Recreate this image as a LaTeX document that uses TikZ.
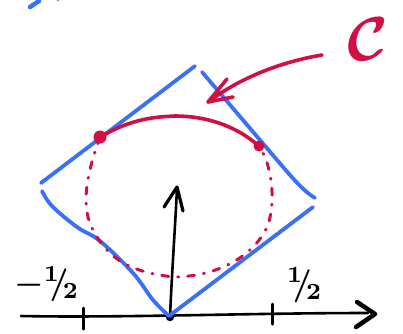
\documentclass[tikz,border=0pt]{standalone}
\usepackage{amsmath,amssymb,bm,graphicx}
\begin{document}
\begin{tikzpicture}[x=1pt,y=-1pt,
  bluel/.style={draw=penblue,line width=3.8pt,line cap=round,line join=round},
  redl/.style={draw=penred,line width=3.6pt,line cap=round,line join=round},
  reddash/.style={draw=penred,line width=3pt,line cap=round,dash pattern=on 7pt off 9pt on 1pt off 9pt},
  blackl/.style={draw=black,line width=2.6pt,line cap=round,line join=round},
  headl/.style={draw=black,line width=4.5pt,line cap=round,line join=round},
  lbl/.style={inner sep=0pt,text=black}]
\definecolor{penblue}{RGB}{58,112,245}
\definecolor{penred}{RGB}{210,14,66}
\useasboundingbox (0,0) rectangle (403,333);
% axes
\coordinate (xl) at (21,316);
\coordinate (o) at (170,317);
\coordinate (xr) at (368,313);
\coordinate (yt) at (177,188);
\draw[blackl] (xl) .. controls (120,318) and (250,313) .. (xr);
\draw[headl] (357,302) -- (375,314) -- (356,327);
\draw[blackl] (o) .. controls (172,270) and (175,230) .. (yt);
\draw[blackl,line width=3.2pt] (164,207) -- (177,187) -- (183,211);
\draw[blackl,line width=3pt] (83,308) -- (83,329);
\draw[blackl,line width=3pt] (272,304) -- (272,324);
\fill[black] (o) circle (4.2);
% tick labels
\node[lbl] (lm) at (47,284) {\scalebox{3.3}{$\bm{-{}^{1}\!\!/\!_{2}}$}};
\node[lbl] (lp) at (305,285) {\scalebox{3.3}{$\bm{{}^{1}\!\!/\!_{2}}$}};
% blue diamond
\coordinate (bl) at (41,183);
\coordinate (bt) at (195,66);
\coordinate (bt2) at (202,72);
\coordinate (br) at (315,198);
\coordinate (br2) at (313,207);
\coordinate (bb) at (169,316);
\coordinate (bl2) at (42,191);
\draw[bluel] (bl) -- (bt);
\draw[bluel] (bt2) -- (283,167) .. controls (296,182) and (305,192) .. (br);
\draw[bluel] (br2) -- (bb);
\draw[bluel] plot[smooth,tension=0.6] coordinates {(42,191) (52,206) (77,227) (100,241) (133,273) (153,300) (169,316)};
\draw[bluel,line width=4.5pt] (30,7) -- (39,1);
\fill[penblue!70] (58,0) circle (1.5);
% red curve
\coordinate (rl) at (100,137);
\coordinate (rr) at (259,146);
\draw[redl] (rl) .. controls (130,120) and (150,117) .. (175,116)
  .. controls (205,116) and (235,125) .. (rr);
\draw[reddash] (rl) .. controls (92,160) and (78,200) .. (92,228)
  .. controls (103,250) and (120,272) .. (175,277)
  .. controls (220,276) and (255,255) .. (268,225)
  .. controls (276,200) and (272,165) .. (rr);
\fill[penred] (rl) circle (6.5);
\fill[penred] (rr) circle (5.5);
% label C with arrow
\node[lbl,text=penred] (cc) at (368,39) {\scalebox{6.2}{$\bm{\mathcal{C}}$}};
\coordinate (as) at (322,55);
\coordinate (ae) at (208,102);
\draw[redl] (as) .. controls (280,62) and (240,78) .. (ae);
\draw[redl] (227,79) -- (ae) -- (233,97);
\end{tikzpicture}
\end{document}
